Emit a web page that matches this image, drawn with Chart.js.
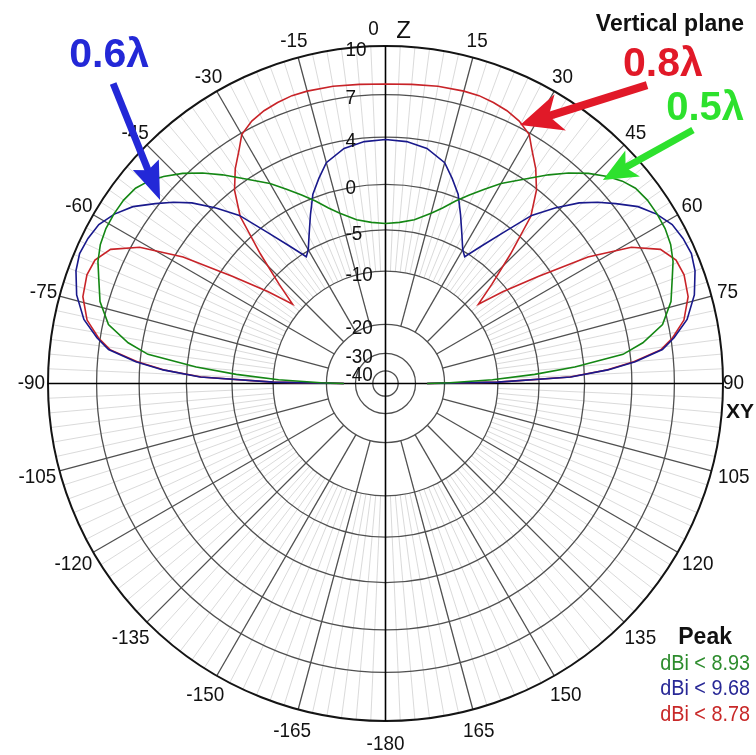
<!DOCTYPE html>
<html><head><meta charset="utf-8">
<script src="https://cdn.jsdelivr.net/npm/chart.js@4.4.0/dist/chart.umd.min.js"></script>
<style>html,body{margin:0;padding:0;background:#fff;}canvas{display:block;}</style>
</head><body>
<canvas id="c" width="756" height="755"></canvas>
<script>
// ---- data (elevation angle from zenith, degrees; gain in dBi) ----
const angles = [-90,-89.3,-88,-86.5,-85,-83,-81,-78,-74,-70,-67,-64,-61,-58,-55,-52,-49.5,-47,-44,-41,-38,-35,-32,-30,-27,-24,-21,-18,-15,-10,-5,0,5,10,15,18,21,24,27,30,32,35,38,41,44,47,49.5,52,55,58,61,64,67,70,74,78,81,83,85,86.5,88,89.3,90];
const green05 = [-26,-19,-11,-5.5,-1.0,3.4,5.0,6.6,7.5,8.0,8.45,8.75,8.9,8.93,8.9,8.75,8.4,7.9,7.2,6.3,5.3,4.3,3.3,2.7,1.6,0.6,-0.4,-1.6,-2.5,-3.6,-4.1,-4.3,-4.1,-3.6,-2.5,-1.6,-0.4,0.6,1.6,2.7,3.3,4.3,5.3,6.3,7.2,7.9,8.4,8.75,8.9,8.93,8.9,8.75,8.45,8.0,7.5,6.6,5.0,3.4,-1.0,-5.5,-11,-19,-26];
const blue06 = [-26,-10,-1.5,2.0,4.3,6.3,7.2,8.2,9.0,9.5,9.68,9.6,9.4,8.9,8.2,7.2,6.3,5.3,3.8,2.0,-0.8,-3.4,-5.5,-4.9,-3.4,-1.6,0.3,1.4,2.5,3.35,3.7,3.8,3.7,3.35,2.5,1.4,0.3,-1.6,-3.4,-4.9,-5.5,-3.4,-0.8,2.0,3.8,5.3,6.3,7.2,8.2,8.9,9.4,9.6,9.68,9.5,9.0,8.2,7.2,6.3,4.3,2.0,-1.5,-10,-26];
const red08 = [-26,-10,-1.6,1.9,4.2,6.2,7.1,8.0,8.6,8.78,8.65,8.05,6.45,3.35,-1.4,-5.5,-8.8,-6.0,-2.1,1.9,3.9,5.1,6.1,6.9,7.35,7.6,7.75,7.85,7.85,7.8,7.7,7.65,7.7,7.8,7.85,7.85,7.75,7.6,7.35,6.9,6.1,5.1,3.9,1.9,-2.1,-6.0,-8.8,-5.5,-1.4,3.35,6.45,8.05,8.65,8.78,8.6,8.0,7.1,6.2,4.2,1.9,-1.6,-10,-26];
const seriesNames = ['0.5λ','0.6λ','0.8λ'];
const peakLabels = ['dBi < 8.93','dBi < 9.68','dBi < 8.78'];
const ringDb = [10,7,4,0,-5,-10,-20,-30,-40];
const ringLabels = ['10','7','4','0','-5','-10','-20','-30','-40'];
const angleTicks = [0,15,30,45,60,75,90,105,120,135,150,165,180,-165,-150,-135,-120,-105,-90,-75,-60,-45,-30,-15];
const angleTickLabels = ['0','15','30','45','60','75','90','105','120','135','150','165','-180','-165','-150','-135','-120','-105','-90','-75','-60','-45','-30','-15'];

// ---- log-like radial scale (fraction of outer radius for each ring) ----
const ringFrac = [1,0.856,0.730,0.590,0.455,0.333,0.175,0.089,0.0376];
function dbToR(db){
  if (db >= ringDb[0]) return ringFrac[0] + (db-ringDb[0])*(ringFrac[0]-ringFrac[1])/(ringDb[0]-ringDb[1]);
  for (let i=0;i<ringDb.length-1;i++){
    if (db <= ringDb[i] && db >= ringDb[i+1]){
      const t=(db-ringDb[i+1])/(ringDb[i]-ringDb[i+1]);
      return ringFrac[i+1]+t*(ringFrac[i]-ringFrac[i+1]);
    }
  }
  const last=ringDb[ringDb.length-1];
  return Math.max(0, ringFrac[ringFrac.length-1]*(1-(last-db)/10));
}
function toXY(vals){
  return angles.map((a,i)=>{const r=dbToR(vals[i]); const t=a*Math.PI/180; return {x:r*Math.sin(t), y:r*Math.cos(t)};});
}

const curveColors = ['rgb(20,135,20)','rgb(25,25,140)','rgb(200,35,40)'];
const labelColors = ['rgb(45,225,45)','rgb(35,40,215)','rgb(225,25,40)'];
const peakColors = ['rgb(45,140,45)','rgb(40,40,150)','rgb(200,40,40)'];

function txt(ctx, s, x, y, font, color, align, sx){
  ctx.save();
  ctx.font=font; ctx.fillStyle=color; ctx.textAlign=align||'center'; ctx.textBaseline='middle';
  ctx.translate(x,y); ctx.scale(sx||1,1); ctx.fillText(s,0,0);
  ctx.restore();
}
function arrow(ctx,x1,y1,x2,y2,color,w,hl,hw,notch){
  const a=Math.atan2(y2-y1,x2-x1), ux=Math.cos(a), uy=Math.sin(a), px=-uy, py=ux;
  const bx=x2-ux*hl, by=y2-uy*hl;
  ctx.save();
  ctx.strokeStyle=color; ctx.fillStyle=color; ctx.lineWidth=w; ctx.lineCap='butt';
  ctx.beginPath(); ctx.moveTo(x1,y1); ctx.lineTo(bx+ux*(notch+2),by+uy*(notch+2)); ctx.stroke();
  ctx.beginPath(); ctx.moveTo(x2,y2);
  ctx.lineTo(bx+px*hw/2,by+py*hw/2);
  ctx.lineTo(bx+ux*notch,by+uy*notch);
  ctx.lineTo(bx-px*hw/2,by-py*hw/2);
  ctx.closePath(); ctx.fill();
  ctx.restore();
}

const polarPlugin = {
  id:'polarGrid',
  beforeDatasetsDraw(chart){
    const {ctx, scales:{x,y}} = chart;
    const cx=x.getPixelForValue(0), cy=y.getPixelForValue(0), R=x.getPixelForValue(1)-cx;
    const P=(a,f)=>{const t=a*Math.PI/180; return [cx+f*R*Math.sin(t), cy-f*R*Math.cos(t)];};
    ctx.save();
    // light radial lines every 2.5 deg
    ctx.strokeStyle='rgb(208,208,208)'; ctx.lineWidth=0.8;
    for (let k=0;k<144;k++){ if (k%6===0) continue; const a=k*2.5;
      const p1=P(a,ringFrac[5]), p2=P(a,1); ctx.beginPath(); ctx.moveTo(p1[0],p1[1]); ctx.lineTo(p2[0],p2[1]); ctx.stroke(); }
    // dark radial lines every 15 deg
    ctx.strokeStyle='rgb(80,80,80)'; ctx.lineWidth=1.3;
    for (let k=0;k<24;k++){ if (k%6===0) continue; const a=k*15;
      const p1=P(a,ringFrac[6]), p2=P(a,1); ctx.beginPath(); ctx.moveTo(p1[0],p1[1]); ctx.lineTo(p2[0],p2[1]); ctx.stroke(); }
    // rings
    ringFrac.forEach((f,i)=>{
      ctx.beginPath(); ctx.arc(cx,cy,f*R,0,Math.PI*2);
      ctx.strokeStyle = i===0 ? 'rgb(20,20,20)' : 'rgb(80,80,80)';
      ctx.lineWidth = i===0 ? 2 : 1.3; ctx.stroke();
    });
    // axes
    ctx.strokeStyle='rgb(0,0,0)'; ctx.lineWidth=1.6;
    ctx.beginPath(); ctx.moveTo(cx,cy-R); ctx.lineTo(cx,cy+R); ctx.moveTo(cx-R,cy); ctx.lineTo(cx+R,cy); ctx.stroke();
    ctx.restore();
  },
  afterDatasetsDraw(chart){
    const {ctx, scales:{x,y}} = chart;
    const cx=x.getPixelForValue(0), cy=y.getPixelForValue(0), R=x.getPixelForValue(1)-cx;
    const D=(u,v)=>[x.getPixelForValue(u), y.getPixelForValue(v)];
    const font='21px "Liberation Sans", Arial, sans-serif';
    // radial tick labels
    ringFrac.forEach((f,i)=>{ txt(ctx, ringLabels[i], cx-40, cy-f*R+4, font, '#111', 'left', 0.9); });
    // angle labels
    angleTicks.forEach((a,i)=>{
      const f = Math.abs(a)<=90 ? 1.049 : 1.068;
      const t=a*Math.PI/180;
      let px=cx+f*R*Math.sin(t), py=cy-f*R*Math.cos(t);
      if (a===0) px-=12;
      if (a===90) px-=6;
      txt(ctx, angleTickLabels[i], px, py, font, '#111', 'center', 0.9);
    });
    txt(ctx,'Z',cx+18,cy-R-15,'24px "Liberation Sans", Arial, sans-serif','#111','center',1);
    txt(ctx,'XY',cx+R+3,cy+29,'bold 21px "Liberation Sans", Arial, sans-serif','#111','left',1);
    // title
    let p=D(0.843,1.062);
    txt(ctx,'Vertical plane',p[0],p[1],'bold 23px "Liberation Sans", Arial, sans-serif','#111','center',1);
    // series labels + arrows
    const big='bold 41px "Liberation Sans", Arial, sans-serif';
    p=D(-0.819,0.970); txt(ctx,seriesNames[1],p[0],p[1],big,labelColors[1],'center',1);
    p=D(0.822,0.944); txt(ctx,seriesNames[2],p[0],p[1],big,labelColors[2],'center',1);
    p=D(0.947,0.812); txt(ctx,seriesNames[0],p[0],p[1],'bold 40px "Liberation Sans", Arial, sans-serif',labelColors[0],'center',1);
    let a1=D(-0.807,0.889), a2=D(-0.668,0.544); arrow(ctx,a1[0],a1[1],a2[0],a2[1],labelColors[1],7,38,28,6);
    a1=D(0.775,0.884); a2=D(0.399,0.766); arrow(ctx,a1[0],a1[1],a2[0],a2[1],labelColors[2],8,42,38,12);
    a1=D(0.911,0.751); a2=D(0.644,0.603); arrow(ctx,a1[0],a1[1],a2[0],a2[1],labelColors[0],7,34,30,8);
    // peak legend
    p=D(0.947,-0.754); txt(ctx,'Peak',p[0],p[1],'bold 23px "Liberation Sans", Arial, sans-serif','#111','center',1);
    const rows=[-0.831,-0.904,-0.981];
    peakLabels.forEach((s,i)=>{ const q=D(0.947,rows[i]); txt(ctx,s,q[0],q[1],'22px "Liberation Sans", Arial, sans-serif',peakColors[i],'center',0.9); });
  }
};

new Chart(document.getElementById('c'), {
  type:'scatter',
  data:{ datasets:[
    {label:seriesNames[0], data:toXY(green05), borderColor:curveColors[0], borderWidth:1.6, showLine:true, pointRadius:0, fill:false, tension:0},
    {label:seriesNames[1], data:toXY(blue06), borderColor:curveColors[1], borderWidth:1.6, showLine:true, pointRadius:0, fill:false, tension:0},
    {label:seriesNames[2], data:toXY(red08), borderColor:curveColors[2], borderWidth:1.6, showLine:true, pointRadius:0, fill:false, tension:0}
  ]},
  options:{
    responsive:false, animation:false, devicePixelRatio:1, events:[],
    layout:{padding:{left:48,right:33,top:46,bottom:34}},
    scales:{ x:{type:'linear',min:-1,max:1,display:false}, y:{type:'linear',min:-1,max:1,display:false} },
    plugins:{legend:{display:false}, tooltip:{enabled:false}, title:{display:false}}
  },
  plugins:[polarPlugin]
});
</script>
</body></html>
